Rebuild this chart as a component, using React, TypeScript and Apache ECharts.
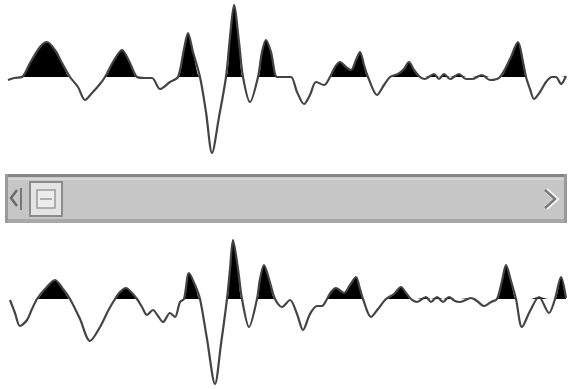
import React, { useEffect, useRef } from "react";
import * as echarts from "echarts";

// Upper trace: sample time and amplitude (positive lobes are filled)
const topTime = [8, 14, 22, 30, 40, 47, 55, 62, 70, 78, 85, 92, 100, 105, 113, 122, 130, 137, 145, 152, 160, 170, 178, 184, 188, 193, 200, 206, 212, 219, 226, 230, 234, 239, 243, 250, 258, 262, 266, 271, 277, 284, 291, 297, 304, 310, 316, 324, 330, 335, 340, 346, 351, 356, 360, 364, 368, 377, 384, 390, 398, 404, 409, 414, 420, 425, 434, 439, 444, 450, 459, 466, 472, 482, 490, 500, 510, 518, 523, 526, 530, 534, 540, 546, 552, 556, 561, 566];
const topAmp = [-3, -1, 0, 14, 30, 35, 27, 14, 0, -10, -23, -16, -7, 0, 15, 27, 14, 0, -1, -1, -12, -5, 0, 28, 44, 25, 0, -35, -76, -40, 0, 40, 72, 35, 0, -25, 0, 25, 37, 25, 0, 0, 0, -15, -27, -18, -5, -8, 0, 10, 15, 10, 7, 17, 25, 12, 0, -18, -8, 0, 3, 8, 15, 7, 0, -2, 3, -2, 3, -2, 3, -2, -2, 2, -3, 0, 18, 35, 15, 0, -12, -22, -15, -5, 0, 0, -7, 1];

// Lower trace
const botTime = [10, 15, 20, 27, 32, 37, 45, 55, 63, 70, 80, 90, 100, 108, 115, 120, 126, 132, 137, 142, 147, 153, 158, 163, 170, 175, 180, 184, 189, 195, 200, 207, 215, 221, 227, 230, 233, 238, 242, 249, 257, 260, 264, 269, 275, 282, 290, 297, 303, 310, 317, 322, 327, 331, 336, 344, 350, 356, 360, 363, 371, 378, 386, 394, 401, 406, 411, 417, 426, 431, 437, 443, 449, 455, 460, 471, 477, 484, 491, 497, 502, 506, 511, 516, 522, 530, 539, 549, 555, 561, 566];
const botAmp = [-1, -14, -27, -21, -10, 0, 10, 19, 10, 0, -20, -42, -28, -12, 0, 7, 11, 6, 0, -8, -16, -11, -17, -23, -14, -18, -3, 0, 26, 14, 0, -40, -85, -45, 0, 30, 59, 30, 0, -28, 0, 20, 34, 20, 0, -8, -1, -15, -31, -15, -7, -7, 0, 7, 11, 6, 14, 22, 10, 0, -18, -10, 0, 5, 12, 6, 0, -3, 2, -3, 2, -3, 2, -2, -3, 1, -2, -7, -3, 0, 18, 34, 18, 0, -28, -12, 2, -14, 0, 22, 1];

function pairs(t: number[], a: number[], clip: boolean) {
  return t.map((x, i) => [x, clip ? Math.max(a[i], 0) : a[i]]);
}

export default function App() {
  const ref = useRef<HTMLDivElement>(null);
  useEffect(() => {
    if (!ref.current) return;
    const chart = echarts.init(ref.current, null, { renderer: "svg" });
    const lineStyle = { color: "#444", width: 2.2 };
    const mk = (idx: number, t: number[], a: number[]) => [
      {
        type: "line",
        xAxisIndex: idx,
        yAxisIndex: idx,
        data: pairs(t, a, true),
        symbol: "none",
        smooth: 0.3,
        lineStyle: { width: 0 },
        areaStyle: { color: "#000", opacity: 1 },
        z: 2,
      },
      {
        type: "line",
        xAxisIndex: idx,
        yAxisIndex: idx,
        data: pairs(t, a, false),
        symbol: "none",
        smooth: 0.3,
        lineStyle,
        z: 3,
      },
    ];
    chart.setOption({
      animation: false,
      backgroundColor: "#fff",
      grid: [
        { left: 0, width: 568, top: 0, height: 160 },
        { left: 0, width: 568, top: 229, height: 160 },
      ],
      xAxis: [
        { type: "value", gridIndex: 0, min: 0, max: 568, show: false },
        { type: "value", gridIndex: 1, min: 0, max: 568, show: false },
      ],
      yAxis: [
        { type: "value", gridIndex: 0, min: -83, max: 77, show: false },
        { type: "value", gridIndex: 1, min: -90, max: 70, show: false },
      ],
      series: [...mk(0, topTime, topAmp), ...mk(1, botTime, botAmp)],
      graphic: [
        { type: "rect", shape: { x: 5, y: 174, width: 562, height: 49 }, style: { fill: "#c6c6c6" }, z: 10 },
        { type: "rect", shape: { x: 5, y: 174, width: 562, height: 3 }, style: { fill: "#858585" }, z: 11 },
        { type: "rect", shape: { x: 5, y: 178, width: 562, height: 2 }, style: { fill: "#d6d6d6" }, z: 11 },
        { type: "rect", shape: { x: 5, y: 219, width: 562, height: 4 }, style: { fill: "#a8a8a8" }, z: 11 },
        { type: "rect", shape: { x: 5, y: 174, width: 3, height: 49 }, style: { fill: "#9a9a9a" }, z: 11 },
        { type: "rect", shape: { x: 564, y: 174, width: 3, height: 49 }, style: { fill: "#9a9a9a" }, z: 11 },
        // left arrow
        { type: "polyline", shape: { points: [[17, 190], [11, 198], [17, 206]] }, style: { stroke: "#6a6a6a", lineWidth: 2.5, fill: "none" }, z: 12 },
        { type: "line", shape: { x1: 21, y1: 188, x2: 21, y2: 210 }, style: { stroke: "#777", lineWidth: 2 }, z: 12 },
        // thumb
        { type: "rect", shape: { x: 30, y: 182, width: 32, height: 34 }, style: { fill: "#e4e4e4", stroke: "#8c8c8c", lineWidth: 2 }, z: 12 },
        { type: "rect", shape: { x: 37, y: 190, width: 18, height: 18 }, style: { fill: "#ececec", stroke: "#9a9a9a", lineWidth: 1.5 }, z: 13 },
        { type: "line", shape: { x1: 40, y1: 199, x2: 52, y2: 199 }, style: { stroke: "#9a9a9a", lineWidth: 1.5 }, z: 13 },
        // right arrow
        { type: "polyline", shape: { points: [[546, 190], [556, 199], [546, 208]] }, style: { stroke: "#f4f4f4", lineWidth: 5, fill: "none" }, z: 12 },
        { type: "polyline", shape: { points: [[545, 190], [555, 199], [545, 208]] }, style: { stroke: "#7a7a7a", lineWidth: 2.5, fill: "none" }, z: 13 },
      ],
    });
    return () => chart.dispose();
  }, []);
  return (
    <div
      ref={ref}
      style={{ position: "fixed", left: 0, top: 0, width: 568, height: 389 }}
    />
  );
}
